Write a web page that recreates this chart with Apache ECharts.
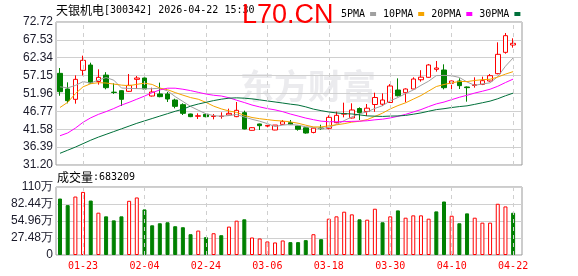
<!DOCTYPE html>
<html><head><meta charset="utf-8">
<script src="https://cdn.jsdelivr.net/npm/echarts@6/dist/echarts.min.js"></script>
<style>html,body{margin:0;padding:0;background:#fff}#c{width:578px;height:276px}</style>
</head><body><div id="c"></div>
<script>
const dates = ['01-20','01-21','01-22','01-23','01-26','01-27','01-28','01-29','01-30','02-02',
'02-03','02-04','02-05','02-06','02-09','02-10','02-11','02-12','02-13','02-24',
'02-25','02-26','02-27','03-02','03-03','03-04','03-05','03-06','03-09','03-10',
'03-11','03-12','03-13','03-16','03-17','03-18','03-19','03-20','03-23','03-24',
'03-25','03-26','03-27','03-30','03-31','04-01','04-02','04-03','04-07','04-08',
'04-09','04-10','04-13','04-14','04-15','04-16','04-17','04-20','04-21','04-22'];
const labelDates = ['01-23','02-04','02-24','03-06','03-18','03-30','04-10','04-22'];
const opens = [57.81,53.27,50.27,58.69,60.23,55.45,57.30,52.35,52.78,52.59,
56.07,56.46,51.23,51.82,51.82,50.07,48.72,46.01,45.35,45.91,
45.28,45.30,45.72,45.24,46.40,41.27,43.11,42.50,41.36,43.01,
43.50,42.53,42.00,40.65,41.95,41.85,43.49,45.95,44.85,47.60,
46.75,48.77,48.85,49.35,52.97,52.20,53.27,55.95,56.66,58.98,
58.78,54.91,55.59,53.85,54.30,54.62,55.59,57.72,63.91,66.04];
const closes = [52.49,49.88,56.07,61.59,55.00,56.65,53.65,52.25,50.27,54.33,
56.46,53.27,52.40,51.04,50.36,48.23,46.20,45.24,45.50,45.24,
45.42,45.38,46.20,47.07,41.65,42.04,42.62,42.70,42.80,43.78,
42.91,41.56,40.49,41.90,41.75,45.04,45.62,46.15,47.17,46.40,
47.70,50.80,50.07,54.14,51.30,53.27,56.17,56.70,60.24,59.36,
53.65,55.59,54.24,53.66,54.50,55.69,57.14,63.33,68.75,66.53];
const lows = [51.30,49.11,49.01,57.20,54.72,54.53,53.17,51.82,48.33,52.40,
53.27,53.10,51.10,50.85,49.49,47.65,45.72,45.10,44.56,45.05,
44.46,44.65,45.60,45.10,41.56,41.20,41.36,42.14,41.30,42.80,
42.90,41.17,40.30,40.40,41.40,41.56,43.30,45.04,44.70,44.27,
45.43,46.65,48.33,49.20,51.10,49.40,53.20,55.40,56.50,58.30,
53.17,52.11,53.27,49.59,53.66,54.40,55.40,57.52,63.52,65.27];
const highs = [59.36,55.20,57.23,62.95,60.91,58.98,58.15,54.91,52.90,57.62,
57.04,56.60,53.65,55.11,52.40,50.46,49.10,46.10,46.20,46.10,
46.01,46.50,47.56,49.49,46.98,42.20,43.20,43.10,42.80,44.27,
44.27,42.60,42.10,42.00,42.90,45.62,46.70,49.30,49.11,47.94,
48.91,52.20,52.00,54.68,56.36,53.46,56.66,58.73,60.53,61.40,
60.43,55.70,56.36,54.00,56.66,56.85,57.62,66.82,69.53,67.98];
// volume in 万 shares
const volumes = [91.3,80.6,94.5,102.0,88.0,68.4,62.5,56.0,62.5,87.6,
93.0,73.7,48.0,51.3,52.9,46.5,44.9,33.6,39.5,28.8,
35.2,32.0,45.9,55.5,57.7,28.3,26.7,21.9,20.3,23.5,
20.8,20.8,24.0,33.6,25.6,58.7,62.5,70.0,65.7,57.7,
57.1,74.8,52.9,62.5,72.1,60.3,64.1,64.1,58.7,70.5,
86.5,63.5,51.3,67.3,60.3,52.3,52.3,82.8,78.5,68.32];
const ma5 = [53.9,53.6,54.3,55.4,55.01,55.84,56.59,55.83,53.56,53.43,
53.39,53.32,53.35,53.50,52.71,51.06,49.65,48.21,47.11,46.08,
45.52,45.36,45.55,45.86,45.14,44.47,43.92,43.22,42.36,42.79,
42.96,42.75,42.31,42.13,41.72,42.15,42.96,44.09,45.15,46.08,
46.61,47.64,48.43,49.82,50.80,51.92,52.99,54.32,55.54,57.15,
57.22,57.11,56.62,55.30,54.33,54.74,55.05,56.86,59.88,62.29];
const ma10 = [47.9,49.4,51.9,53.9,54.8,55.1,55.0,54.7,54.4,54.22,
54.62,54.95,54.59,53.53,53.07,52.23,51.48,50.78,50.30,49.39,
48.29,47.50,46.88,46.48,45.61,44.99,44.64,44.38,44.11,43.97,
43.72,43.33,42.76,42.25,42.26,42.56,42.86,43.20,43.64,43.90,
44.38,45.30,46.26,47.48,48.44,49.26,50.32,51.37,52.68,53.98,
54.57,55.05,55.47,55.42,55.74,55.98,56.08,56.74,57.59,58.31];
const ma20 = [39.7,40.5,41.9,43.6,44.9,45.9,46.7,47.6,48.6,49.4,
50.3,51.2,52.2,53.0,53.5,53.5,53.2,52.8,52.3,51.81,
51.45,51.23,50.73,50.01,49.34,48.61,48.06,47.58,47.21,46.68,
46.00,45.42,44.82,44.36,43.93,43.77,43.75,43.79,43.87,43.93,
44.05,44.32,44.51,44.86,45.35,45.91,46.59,47.29,48.16,48.94,
49.47,50.18,50.86,51.45,52.09,52.62,53.20,54.06,55.14,56.14];
const ma30 = [34.6,35.5,36.4,37.4,38.4,39.3,40.1,40.9,41.7,42.5,
43.3,44.0,44.7,45.4,46.1,46.8,47.4,48.3,48.9,49.4,
49.9,50.3,50.6,50.7,50.6,50.4,50.1,49.8,49.5,49.19,
48.87,48.60,48.08,47.42,46.98,46.59,46.32,46.12,46.02,45.75,
45.46,45.38,45.30,45.40,45.44,45.60,45.94,46.32,46.81,47.28,
47.55,47.89,48.16,48.38,48.81,49.27,49.75,50.44,51.30,52.06];
const priceTicks = [31.20,36.39,41.58,46.77,51.96,57.15,62.34,67.53,72.72];
const volTicks = [0,27.48,54.96,82.44,109.92];
const volTickLabels = ['0','27.48万','54.96万','82.44万','110万'];
const maNames = ['5PMA','10PMA','20PMA','30PMA'];
const lastVolume = '683209';

const RED = '#ff0000', GREEN = '#008000';
const MONO = '"DejaVu Sans Mono", monospace';
const SANS = '"Liberation Sans", Arial, sans-serif';
const pMin = priceTicks[0], pMax = priceTicks[priceTicks.length-1];
const pInt = +(priceTicks[1]-priceTicks[0]).toFixed(2);
const vMin = volTicks[0], vMax = volTicks[volTicks.length-1];
const vInt = +(volTicks[1]-volTicks[0]).toFixed(2);

const candleData = dates.map((d,i)=>[opens[i],closes[i],lows[i],highs[i]]);
const volData = volumes.map((v,i)=>{
  const up = i===0 ? closes[0]>opens[0] : closes[i]>=closes[i-1];
  return {value:v, itemStyle: up ? {color:'#fff', borderColor:RED, borderWidth:1} : {color:GREEN, borderColor:GREEN, borderWidth:1}};
});
const labelIdx = labelDates.map(d=>dates.indexOf(d));
const vLines = {
  silent:true, symbol:['none','none'], label:{show:false},
  lineStyle:{type:[4,4], color:'#cfcfcf', width:1},
  emphasis:{disabled:true},
  data: labelDates.map(d=>({xAxis:d}))
};

const PL = 56, PW = 466, BW = 460.8;
const chart = echarts.init(document.getElementById('c'), null, {renderer:'canvas'});
chart.setOption({
  animation:false,
  backgroundColor:'#fff',
  legend:{
    data: maNames, left:336, top:4, align:'right', icon:'rect', itemWidth:6, itemHeight:4, itemGap:7,
    textStyle:{fontFamily:MONO, fontSize:10, color:'#000'}, selectedMode:false
  },
  graphic:[
    {type:'text', z:-10, silent:true, style:{x:240, y:86, text:'东方财富', font:'bold 34px "Noto Sans CJK SC"', fill:'#ebebee', verticalAlign:'middle'}},
    {type:'text', style:{x:56, y:10, verticalAlign:'middle', text:'{a|天银机电}{b|[300342] 2026-04-22 15:30}',
      rich:{a:{fontFamily:'"Noto Sans CJK SC"', fontSize:12, fill:'#000'}, b:{fontFamily:MONO, fontSize:10, fill:'#000'}}}},
    {type:'text', z:100, style:{x:242, y:16, verticalAlign:'middle', text:'L70.CN', font:'27px "Liberation Sans"', fill:'#f00'}},
    {type:'text', style:{x:57, y:177, verticalAlign:'middle', text:'{a|成交量}{b|:' + lastVolume + '}',
      rich:{a:{fontFamily:'"Noto Sans CJK SC"', fontSize:12, fill:'#000'}, b:{fontFamily:MONO, fontSize:10, fill:'#000'}}}}
  ],
  grid:[
    {left:PL, top:22, width:PW, height:143, show:true, borderColor:'#999', borderWidth:1, backgroundColor:'transparent'},
    {left:PL+0.16, top:22, width:BW, height:143},
    {left:PL, top:187, width:PW, height:68, show:true, borderColor:'#999', borderWidth:1, backgroundColor:'transparent'},
    {left:PL+0.16, top:187, width:BW, height:68}
  ],
  xAxis:[
    {type:'value', gridIndex:0, min:0, max:1, show:false},
    {type:'category', gridIndex:1, data:dates, boundaryGap:true, axisLine:{show:false}, axisTick:{show:false}, axisLabel:{show:false}, splitLine:{show:false}},
    {type:'value', gridIndex:2, min:0, max:1, show:false},
    {type:'category', gridIndex:3, data:dates, boundaryGap:true, axisLine:{show:false}, axisTick:{show:false}, splitLine:{show:false},
      axisLabel:{show:true, interval:(i)=>labelIdx.indexOf(i)>=0, color:RED, fontFamily:MONO, fontSize:10, margin:6}}
  ],
  yAxis:[
    {type:'value', gridIndex:0, min:pMin, max:pMax, interval:pInt, axisLine:{show:false}, axisTick:{show:false},
      splitLine:{show:true, lineStyle:{color:'#d0d0d0', width:1}},
      axisLabel:{show:true, showMinLabel:true, showMaxLabel:true, color:'#1a1a2a', fontFamily:SANS, fontSize:12, margin:3, formatter:(v)=>v.toFixed(2)}},
    {type:'value', gridIndex:1, min:pMin, max:pMax, show:false},
    {type:'value', gridIndex:2, min:vMin, max:vMax, interval:vInt, axisLine:{show:false}, axisTick:{show:false},
      splitLine:{show:true, lineStyle:{color:'#d0d0d0', width:1}},
      axisLabel:{show:true, showMinLabel:true, showMaxLabel:true, color:'#1a1a2a', fontFamily:SANS, fontSize:12, margin:3,
        formatter:(v)=>volTickLabels[Math.round(v/vInt)]}},
    {type:'value', gridIndex:3, min:vMin, max:vMax, show:false}
  ],
  series:[
    {type:'candlestick', name:'K', xAxisIndex:1, yAxisIndex:1, data:candleData, barWidth:5,
      itemStyle:{color:'#fff', color0:GREEN, borderColor:RED, borderColor0:GREEN, borderWidth:1},
      markLine:vLines},
    {type:'line', name:maNames[0], xAxisIndex:1, yAxisIndex:1, data:ma5, showSymbol:false, color:'#a0a0a0', lineStyle:{width:1, color:'#a0a0a0'}},
    {type:'line', name:maNames[1], xAxisIndex:1, yAxisIndex:1, data:ma10, showSymbol:false, color:'#f5a400', lineStyle:{width:1, color:'#f5a400'}},
    {type:'line', name:maNames[2], xAxisIndex:1, yAxisIndex:1, data:ma20, showSymbol:false, color:'#ff00ff', lineStyle:{width:1, color:'#ff00ff'}},
    {type:'line', name:maNames[3], xAxisIndex:1, yAxisIndex:1, data:ma30, showSymbol:false, color:'#00703a', lineStyle:{width:1, color:'#00703a'}},
    {type:'bar', name:'VOL', xAxisIndex:3, yAxisIndex:3, data:volData, barWidth:4, markLine:vLines}
  ]
});
</script></body></html>
